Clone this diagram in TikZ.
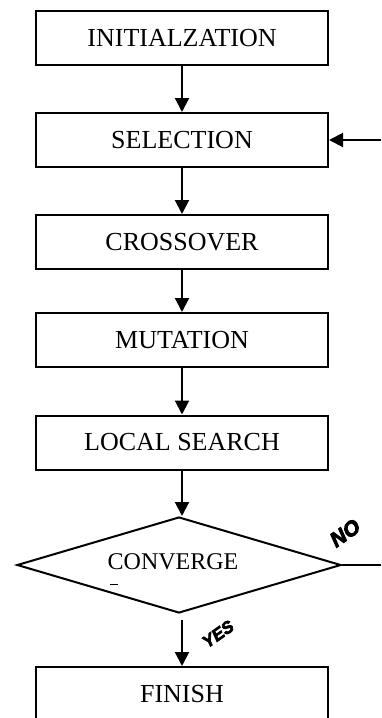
\documentclass[tikz,border=0pt]{standalone}
\usepackage{fontspec}
\setmainfont{Liberation Serif}
\newfontfamily\tagfont[FakeBold=4]{Liberation Sans}
\usetikzlibrary{arrows.meta}
\usetikzlibrary{shapes.geometric}

\begin{document}
\begin{tikzpicture}[x=1pt, y=-1pt, line width=2pt,
  stage/.style={draw, rectangle, minimum width=292pt, minimum height=54pt, inner sep=0pt, font=\fontsize{26}{30}\selectfont},
  test/.style={draw, diamond, aspect=3.375, minimum width=324pt, minimum height=96pt, inner sep=0pt, font=\fontsize{24}{28}\selectfont},
  tag/.style={font=\tagfont\bfseries\itshape\fontsize{17}{19}\selectfont, rotate=35, inner sep=0pt},
  flow/.style={-{Triangle[length=14pt,width=14pt]}}]
\clip (0, 0) rectangle (381, 718);

\node (init) [stage] at (182, 38) {INITIALZATION};
\node (sel) [stage] at (182, 140) {SELECTION};
\node (cross) [stage] at (182, 242) {CROSSOVER};
\node (mut) [stage] at (182, 340) {MUTATION};
\node (local) [stage] at (182, 442.5) {LOCAL SEARCH};
\node (conv) [test] at (179, 565) {};
\node (convtext) [font=\fontsize{24}{28}\selectfont] at (173, 562) {CONVERGE};
\node (fin) [stage] at (182, 694) {FINISH};

\coordinate (noend) at (381, 565);
\coordinate (back) at (381, 140);
\coordinate (yesstart) at (182, 620);

\draw [flow] (init) -- (sel);
\draw [flow] (sel) -- (cross);
\draw [flow] (cross) -- (mut);
\draw [flow] (mut) -- (local);
\draw [flow] (local.south) -- (local.south |- conv.north);
\draw [flow] (yesstart) -- (fin);
\draw (conv.east) -- (noend);
\draw [flow] (back) -- (sel.east);

\node (no) [tag, font=\tagfont\bfseries\itshape\fontsize{21}{23}\selectfont] at (345, 533) {NO};
\node (yes) [tag] at (218, 634) {YES};

\draw [line width=0.8pt] (110, 584) -- (118, 584);
\end{tikzpicture}
\end{document}
